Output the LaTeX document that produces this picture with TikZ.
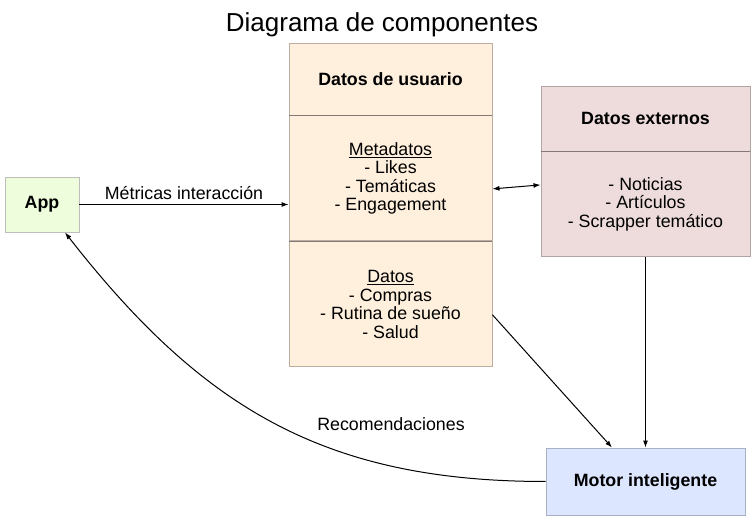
\documentclass[tikz,border=0pt]{standalone}
\usepackage{fontspec}
\setmainfont{Liberation Sans}
\usepackage{tikz}
\usetikzlibrary{positioning}
\usetikzlibrary{arrows.meta}
\definecolor{usrfill}{HTML}{FFF0DD}
\definecolor{usrline}{HTML}{BBAE9E}
\definecolor{extfill}{HTML}{EEDCDC}
\definecolor{extline}{HTML}{B3A3A3}
\definecolor{appfill}{HTML}{EEFEDD}
\definecolor{appline}{HTML}{BDBDBD}
\definecolor{motfill}{HTML}{DDE6FF}
\definecolor{motline}{HTML}{A8B0C4}
\definecolor{divline}{HTML}{857878}
\tikzset{
  base/.style={font=\fontsize{17.8}{18.5}\selectfont, align=center, inner sep=0pt},
  usrbox/.style={base, fill=usrfill, draw=usrline, line width=0.9pt, minimum width=203pt},
  extbox/.style={base, fill=extfill, draw=extline, line width=0.9pt, minimum width=209pt},
  compbox/.style={base, font=\fontsize{17.8}{18.5}\selectfont\bfseries, line width=0.9pt},
  conn/.style={-{Latex[length=7pt,width=5pt]}, line width=1pt}
}
\begin{document}
\begin{tikzpicture}[x=1pt,y=-1pt]
    \useasboundingbox (0,0) rectangle (756,521);
    \node[base, font=\fontsize{26}{28}\selectfont] (title) at (382,25) {Diagrama de componentes};
    % datos de usuario
    \node[usrbox, minimum height=72pt, font=\fontsize{17.8}{18.5}\selectfont\bfseries] (usrhead) at (390.5,79) {Datos de usuario};
    \node[usrbox, minimum height=125pt, below=0pt of usrhead] (usrmeta)
      {\underline{Metadatos}\\- Likes\\- Temáticas\\- Engagement};
    \node[usrbox, minimum height=125pt, below=0pt of usrmeta] (usrdatos)
      {\underline{Datos}\\- Compras\\- Rutina de sueño\\- Salud};
    \draw[divline, line width=0.9pt] (usrhead.south west) -- (usrhead.south east);
    \draw[divline, line width=0.9pt] (usrmeta.south west) -- (usrmeta.south east);
    % datos externos
    \node[extbox, minimum height=65pt, font=\fontsize{17.8}{18.5}\selectfont\bfseries] (exthead) at (645.5,118.5) {Datos externos};
    \node[extbox, minimum height=105pt, below=0pt of exthead] (extbody)
      {- Noticias\\- Artículos\\- Scrapper temático};
    \draw[divline, line width=0.9pt] (exthead.south west) -- (exthead.south east);
    % componentes
    \node[compbox, fill=appfill, draw=appline, minimum width=74pt, minimum height=55pt] (app) at (42,204.5) {App};
    \node[compbox, fill=motfill, draw=motline, minimum width=199pt, minimum height=67pt] (motor) at (645.5,481.5) {Motor inteligente};
    % conexiones
    \draw[conn] (app.east) -- node[base, above=4pt] (lblmet) {Métricas interacción} (app.east -| usrmeta.west);
    \draw[conn, {Latex[length=7pt,width=5pt]}-{Latex[length=7pt,width=5pt]}]
      ([yshift=-10.5pt]usrmeta.east) -- ([yshift=19.5pt]extbody.west);
    \draw[conn] ([yshift=-10.5pt]usrdatos.east) -- ([xshift=-33.5pt]motor.north);
    \draw[conn] (extbody.south) -- (motor.north);
    \draw[conn] (motor.west) to[out=180, in=-52, looseness=1.05] ([xshift=23pt]app.south);
    \node[base] (lblrec) at (391,424) {Recomendaciones};
\end{tikzpicture}
\end{document}
